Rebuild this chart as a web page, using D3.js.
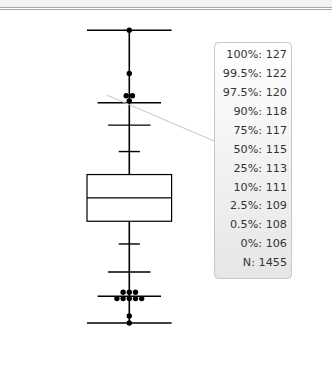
<!DOCTYPE html>
<html>
<head>
<meta charset="utf-8">
<script src="https://cdn.jsdelivr.net/npm/d3@7"></script>
<style>
  body { margin: 0; background: #fff; }
  svg { display: block; }
  .tip-text { font-family: "DejaVu Sans", sans-serif; font-size: 11.2px; fill: #333; }
</style>
</head>
<body>
<div id="chart"></div>
<script>
// quantile levels shown in the hover label, top to bottom
const quantileLabels = ["100%", "99.5%", "97.5%", "90%", "75%", "50%", "25%", "10%", "2.5%", "0.5%", "0%"];
const quantileValues = [127, 121.8, 120.2, 118.3, 116.65, 114.98, 113.3, 111.67, 109.66, 107.92, 106];
// values as printed in the label
const quantileText = ["127", "122", "120", "118", "117", "115", "113", "111", "109", "108", "106"];
const sampleSize = 1455;
// individual points beyond the whiskers
const outlierValues = [127, 123.9, 122.3, 122.3, 121.93,
  108.21, 108.21, 108.21, 107.75, 107.75, 107.75, 107.75, 107.75, 106.5, 106];
// value under the pointer of the hover label
const hoverValue = 122.35;

const width = 332, height = 367;

const svg = d3.select("#chart").append("svg")
  .attr("width", width)
  .attr("height", height);

// window chrome at the top
svg.append("rect").attr("width", width).attr("height", 7).attr("fill", "#f4f4f4");
svg.append("rect").attr("y", 7).attr("width", width).attr("height", 1).attr("fill", "#a8a8a8");
svg.append("rect").attr("y", 9).attr("width", width).attr("height", 1).attr("fill", "#a8a8a8");

const y = d3.scaleLinear()
  .domain([d3.min(quantileValues), d3.max(quantileValues)])
  .range([323, 30.3]);
const x = d3.scaleLinear().domain([-1, 1]).range([87, 171.6]);

const q = Object.fromEntries(quantileLabels.map((l, i) => [l, quantileValues[i]]));

// whisker spine
const g = svg.append("g");
g.append("line")
  .attr("x1", x(0)).attr("x2", x(0))
  .attr("y1", y(q["100%"])).attr("y2", y(q["0%"]))
  .attr("stroke", "#000").attr("stroke-width", 1.6);

// quantile ticks, wider toward the extremes
const tickWidth = { "100%": 1, "99.5%": 0.75, "97.5%": 0.5, "90%": 0.25, "10%": 0.25, "2.5%": 0.5, "0.5%": 0.75, "0%": 1 };
g.selectAll(".qtick")
  .data(Object.keys(tickWidth))
  .join("line")
  .attr("class", "qtick")
  .attr("x1", (d) => x(-tickWidth[d]))
  .attr("x2", (d) => x(tickWidth[d]))
  .attr("y1", (d) => y(q[d]))
  .attr("y2", (d) => y(q[d]))
  .attr("stroke", "#000")
  .attr("stroke-width", 1.4);

// box
g.append("rect")
  .attr("x", x(-1)).attr("width", x(1) - x(-1))
  .attr("y", y(q["75%"])).attr("height", y(q["25%"]) - y(q["75%"]))
  .attr("fill", "#fff").attr("stroke", "#000").attr("stroke-width", 1.2);
g.append("line")
  .attr("x1", x(-1)).attr("x2", x(1))
  .attr("y1", y(q["50%"])).attr("y2", y(q["50%"]))
  .attr("stroke", "#000").attr("stroke-width", 1.2);

// outlier dots, stacked side by side when equal
const dots = [];
d3.group(outlierValues, (d) => d).forEach((vals, v) => {
  vals.forEach((_, i) => dots.push({ v, offset: i - (vals.length - 1) / 2 }));
});
const dotStep = 6.2;
g.selectAll(".dot")
  .data(dots)
  .join("circle")
  .attr("class", "dot")
  .attr("cx", (d) => x(0) + d.offset * dotStep)
  .attr("cy", (d) => y(d.v))
  .attr("r", 2.7)
  .attr("fill", "#000");

// hover label
const tip = { x: 214, y: 42, w: 77, h: 236, rowStart: 54, row: 18.94 };

svg.append("line")
  .attr("x1", x(-0.53)).attr("y1", y(hoverValue))
  .attr("x2", tip.x).attr("y2", 141)
  .attr("stroke", "#c4c4c4").attr("stroke-width", 1);

const grad = svg.append("defs").append("linearGradient")
  .attr("id", "tip-grad").attr("x1", 0).attr("x2", 0).attr("y1", 0).attr("y2", 1);
grad.append("stop").attr("offset", "0%").attr("stop-color", "#ffffff");
grad.append("stop").attr("offset", "100%").attr("stop-color", "#e6e6e6");

const tipG = svg.append("g").attr("transform", `translate(${tip.x},${tip.y})`);
tipG.append("rect")
  .attr("x", 0.5).attr("y", 0.5)
  .attr("width", tip.w).attr("height", tip.h)
  .attr("rx", 4)
  .attr("fill", "url(#tip-grad)")
  .attr("stroke", "#c6c6c6");

const rows = quantileLabels.map((l, i) => `${l}: ${quantileText[i]}`).concat([`N: ${sampleSize}`]);
tipG.selectAll("text")
  .data(rows)
  .join("text")
  .attr("class", "tip-text")
  .attr("x", tip.w - 4)
  .attr("y", (d, i) => tip.rowStart - tip.y + i * tip.row)
  .attr("dy", "0.35em")
  .attr("text-anchor", "end")
  .text((d) => d);
</script>
</body>
</html>
